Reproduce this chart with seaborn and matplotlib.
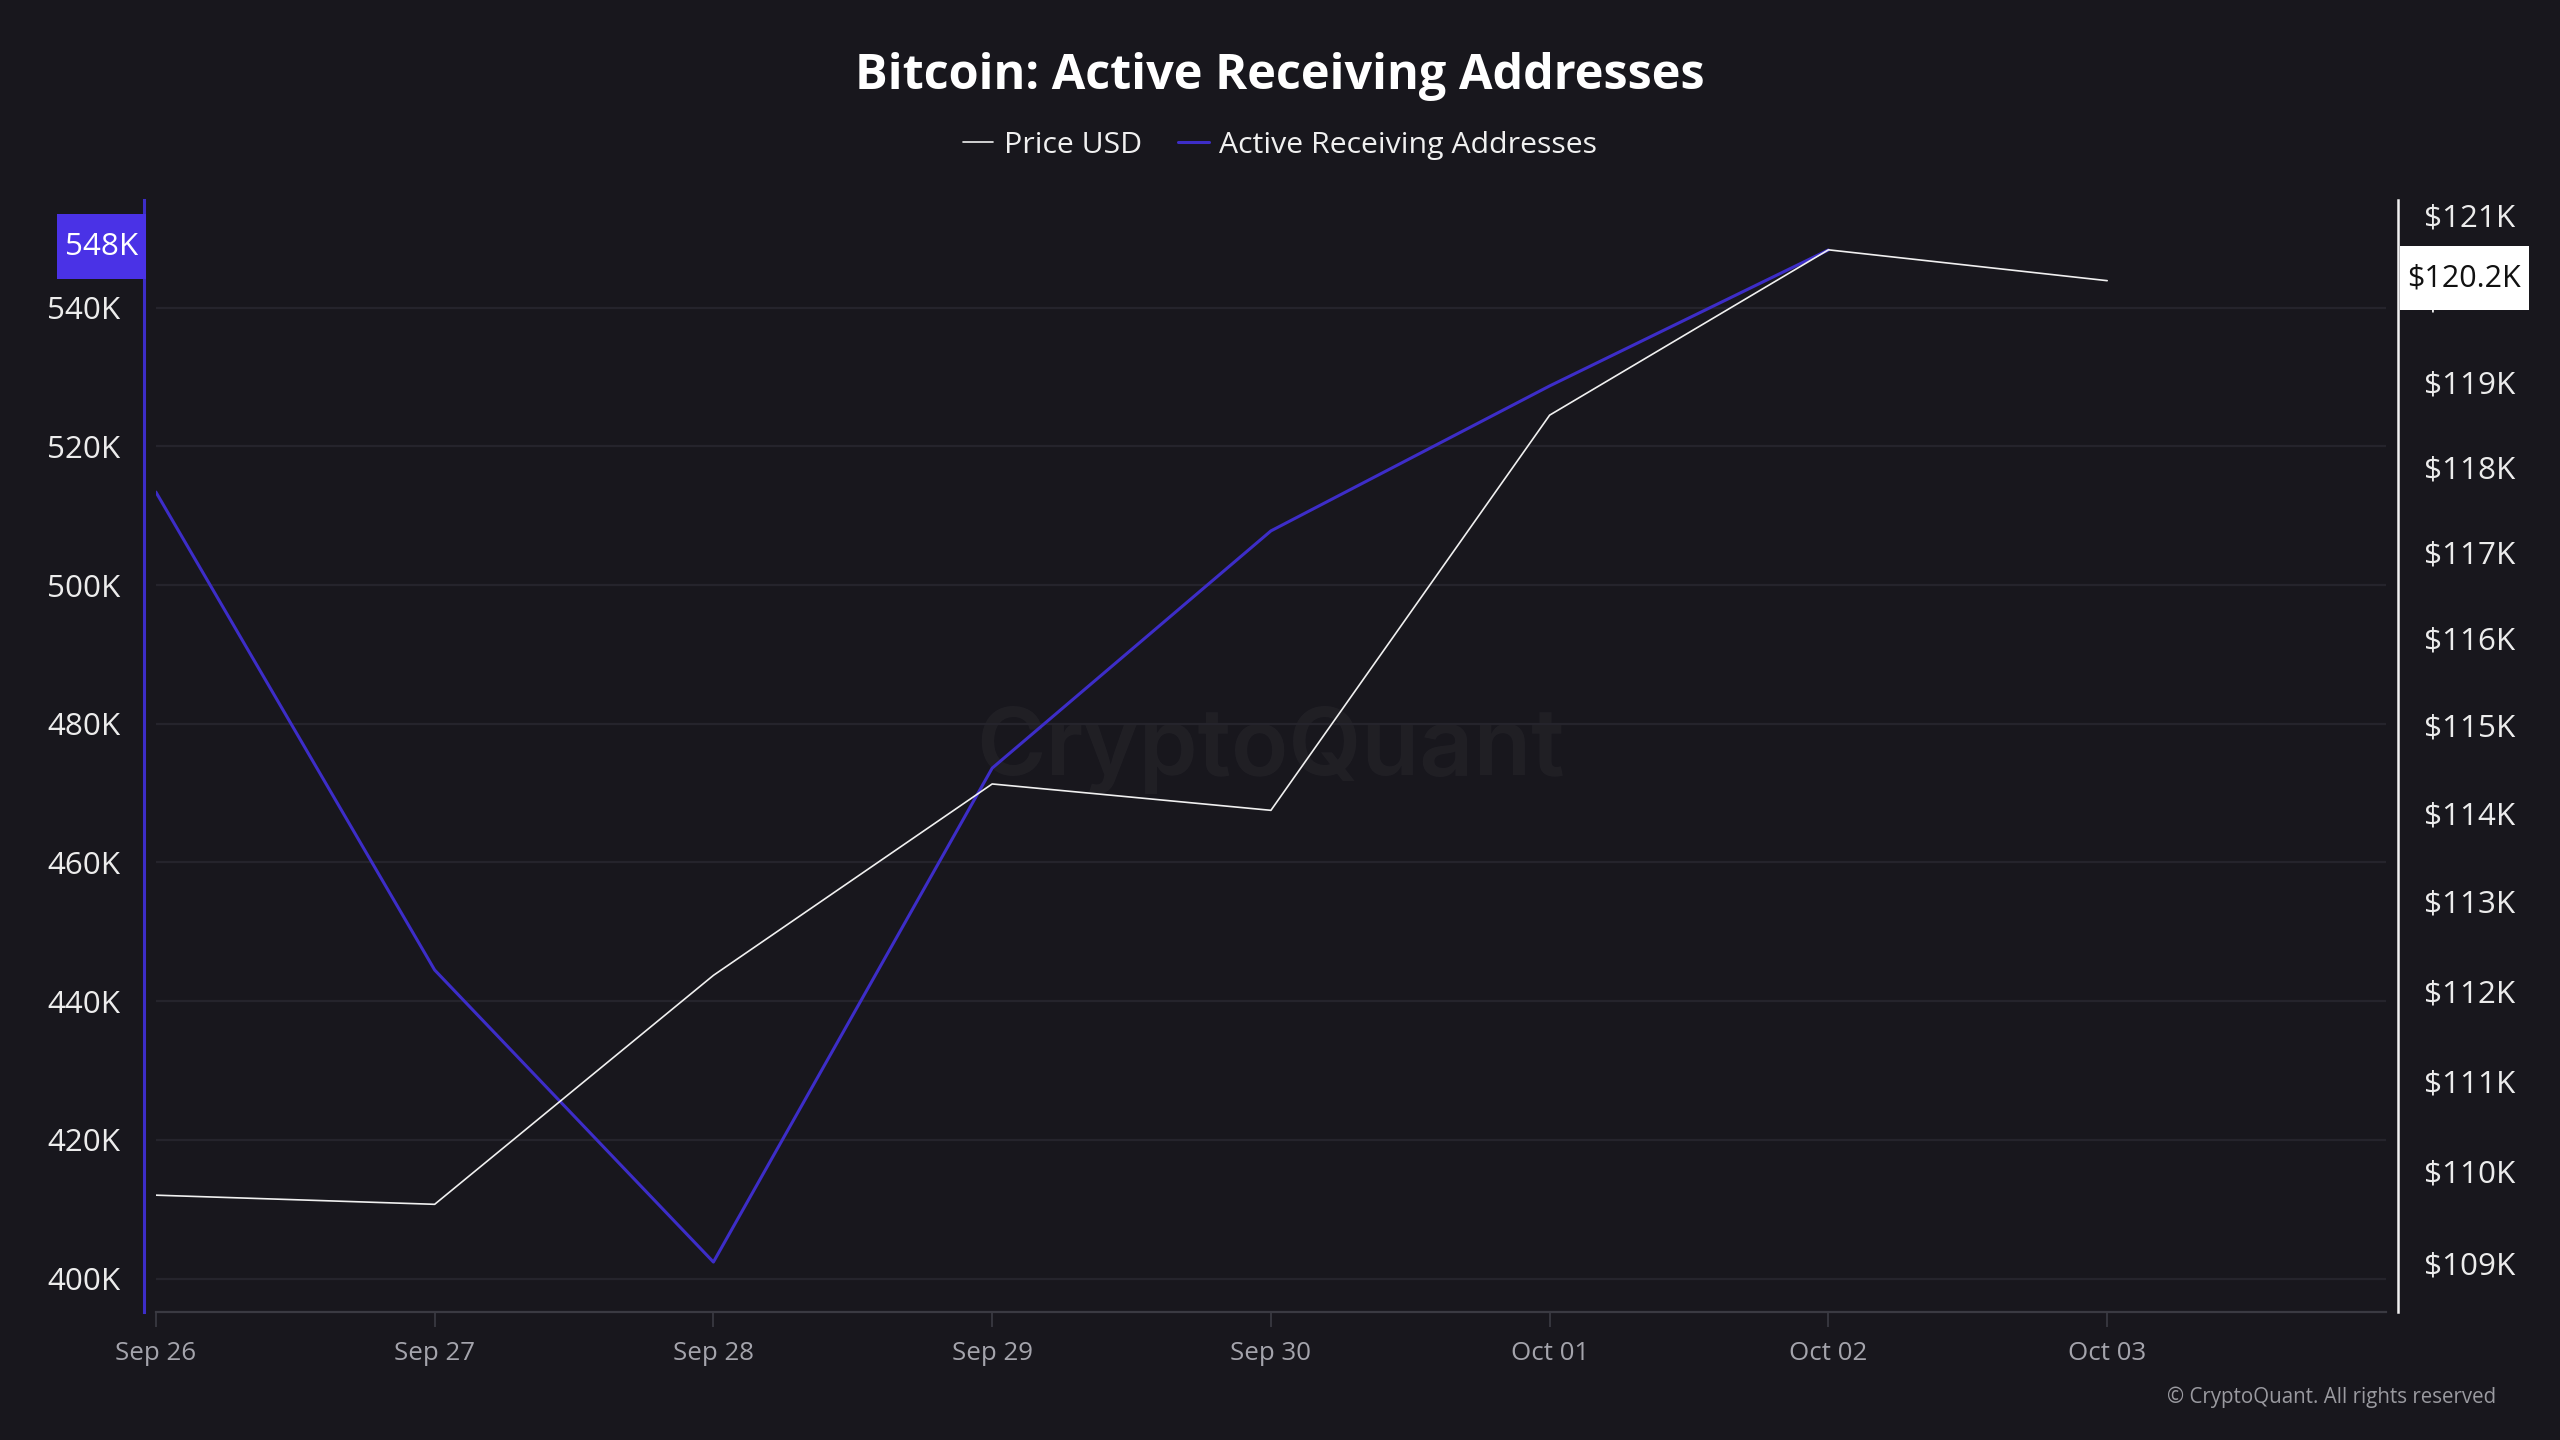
import matplotlib
matplotlib.use("Agg")
import matplotlib.pyplot as plt
import matplotlib.ticker as mticker
import matplotlib.dates as mdates
from matplotlib.path import Path
import seaborn as sns
import pandas as pd

# ---------------- data ----------------
price_dates = ["2025-09-26", "2025-09-27", "2025-09-28", "2025-09-29",
               "2025-09-30", "2025-10-01", "2025-10-02", "2025-10-03"]
price_usd = [109740, 109640, 112170, 114330, 114030, 118610, 120580, 120210]

addr_dates = ["2025-09-26", "2025-09-27", "2025-09-28", "2025-09-29",
              "2025-09-30", "2025-10-01", "2025-10-02"]
active_receiving = [513400, 444500, 402400, 473600, 507800, 528700, 548300]

left_ticks = [400000, 420000, 440000, 460000, 480000, 500000, 520000, 540000]
right_ticks = [109000, 110000, 111000, 112000, 113000, 114000, 115000,
               116000, 117000, 118000, 119000, 120000, 121000]

title = "Bitcoin: Active Receiving Addresses"
series_names = ["Price USD", "Active Receiving Addresses"]

# ---------------- style ----------------
BG = "#18171d"
PURPLE = "#3d2dc8"
BOX_PURPLE = "#4a32e6"
WHITE_LINE = "#f0f0f0"
GRID = "#25242c"


def tall_box(x0, y0, width, height, mutation_size, padx=0.25, pady=0.55):
    px_, py_ = padx * mutation_size, pady * mutation_size
    verts = [(x0 - px_, y0 - py_), (x0 + width + px_, y0 - py_),
             (x0 + width + px_, y0 + height + py_), (x0 - px_, y0 + height + py_),
             (x0 - px_, y0 - py_)]
    codes = [Path.MOVETO, Path.LINETO, Path.LINETO, Path.LINETO, Path.CLOSEPOLY]
    return Path(verts, codes)


sns.set_theme(style="dark")
plt.rcParams["font.family"] = ["Open Sans", "DejaVu Sans"]

fig = plt.figure(figsize=(12.8, 7.2), dpi=200, facecolor=BG)
ax = fig.add_axes([0.0609, 0.0889, 0.8711, 0.7722], facecolor=BG)
ax2 = ax.twinx()

px = pd.to_datetime(price_dates)
axd = pd.to_datetime(addr_dates)

sns.lineplot(x=axd, y=active_receiving, ax=ax, color=PURPLE, lw=1.1, legend=False)
sns.lineplot(x=px, y=price_usd, ax=ax2, color=WHITE_LINE, lw=0.6, legend=False)

# x axis
ax.set_xlim(pd.Timestamp("2025-09-26"), pd.Timestamp("2025-10-04"))
ax.xaxis.set_major_locator(mticker.FixedLocator(mdates.date2num(px)))
ax.xaxis.set_major_formatter(mdates.DateFormatter("%b %d"))
ax.set_xlabel("")
ax.set_ylabel("")
ax2.set_ylabel("")

# left axis (addresses)
ax.set_ylim(395200, 555500)
ax.yaxis.set_major_locator(mticker.FixedLocator(left_ticks))
ax.yaxis.set_major_formatter(mticker.FuncFormatter(lambda v, p: f"{v/1000:.0f}K"))

# right axis (price, log)
ax2.set_yscale("log")
ax2.set_ylim(108470, 121180)
ax2.yaxis.set_major_locator(mticker.FixedLocator(right_ticks))
ax2.yaxis.set_minor_locator(mticker.NullLocator())
ax2.yaxis.set_major_formatter(mticker.FuncFormatter(lambda v, p: f"${v/1000:.0f}K"))

# ticks
ax.tick_params(axis="x", bottom=True, length=5.4, width=0.6, color="#3c3c44",
               labelsize=9.3, labelcolor="#a4a4ac", pad=5)
ax.tick_params(axis="y", left=True, length=0, pad=8.6, labelsize=11.3,
               labelcolor="#ececec")
ax2.tick_params(axis="y", right=True, length=0, pad=9.4, labelsize=11.3,
                labelcolor="#ececec")

# spines
for s in ["top", "right"]:
    ax.spines[s].set_visible(False)
ax.spines["left"].set_position(("outward", 4.3))
ax.spines["left"].set_color(PURPLE)
ax.spines["left"].set_linewidth(1.1)
ax.spines["bottom"].set_color("#3a3a42")
ax.spines["bottom"].set_linewidth(0.8)
for s in ["top", "left", "bottom"]:
    ax2.spines[s].set_visible(False)
ax2.spines["right"].set_visible(True)
ax2.spines["right"].set_position(("outward", 4.3))
ax2.spines["right"].set_color(WHITE_LINE)
ax2.spines["right"].set_linewidth(0.9)

# grid
ax.grid(False)
ax.yaxis.grid(True, color=GRID, lw=0.8)
ax.set_axisbelow(True)
ax2.grid(False)

# watermark
ax.text(0.5, 0.505, "CryptoQuant", transform=ax.transAxes, ha="center", va="center",
        fontsize=34, fontweight="semibold", color="#ffffff", alpha=0.035,
        family=["Inter", "DejaVu Sans"], zorder=0)

# last value labels
ax.annotate(f"{active_receiving[-1]/1000:.0f}K", xy=(0, active_receiving[-1]),
            xycoords=("axes fraction", "data"), xytext=(-6.3, 1.2),
            textcoords="offset points", ha="right", va="center", color="white",
            fontsize=11.3, annotation_clip=False, zorder=10,
            bbox=dict(boxstyle=tall_box, fc=BOX_PURPLE, ec="none"))
ax2.annotate(f"${price_usd[-1]/1000:.1f}K", xy=(1, price_usd[-1]),
             xycoords=("axes fraction", "data"), xytext=(7.8, 0.9),
             textcoords="offset points", ha="left", va="center", color="#111111",
             fontsize=11, annotation_clip=False, zorder=10,
             bbox=dict(boxstyle=tall_box, fc="#ffffff", ec="none"))

# title & legend
fig.text(0.5, 0.947, title, ha="center", va="center", fontsize=17.5,
         fontweight="bold", color="white")
handles = [ax2.lines[0], ax.lines[0]]
fig.legend(handles=handles, labels=series_names, loc="center",
           bbox_to_anchor=(0.5, 0.899), ncol=2, frameon=False, fontsize=10.9,
           handlelength=1.0, handletextpad=0.35, columnspacing=1.2,
           labelcolor="#f0f0f0")

fig.text(0.975, 0.0299, "© CryptoQuant. All rights reserved", ha="right",
         va="center", fontsize=7.4, color="#9a9aa0")

fig.savefig("out.png", dpi=200, facecolor=BG)
